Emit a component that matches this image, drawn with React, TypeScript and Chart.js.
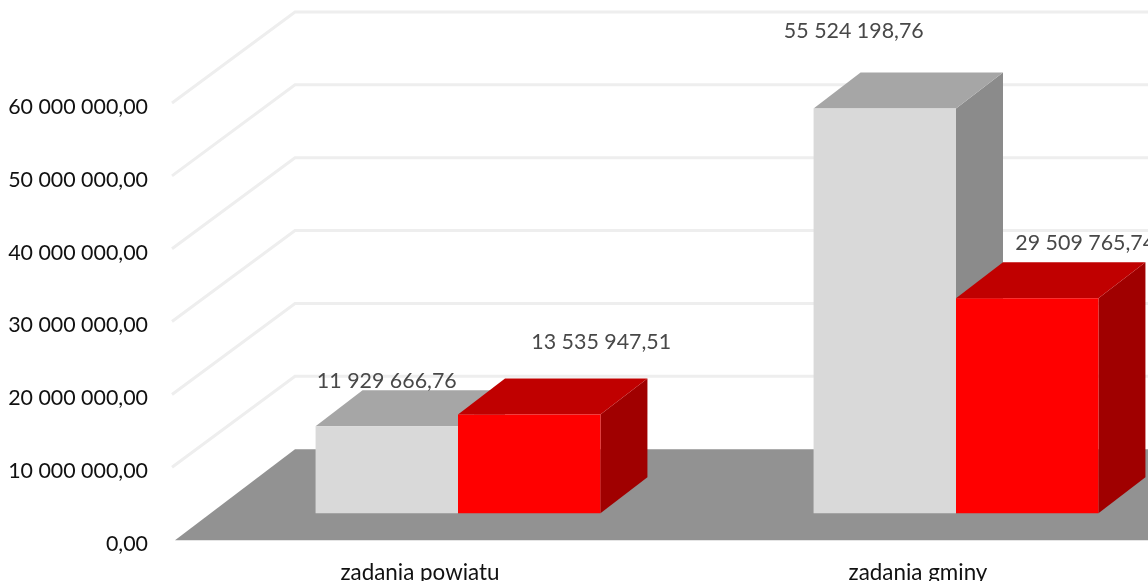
import React, { useEffect, useRef } from "react";
import { Chart, registerables } from "chart.js";

Chart.register(...registerables);

const categories = ["zadania powiatu", "zadania gminy"];
const seriesGrey = [11929666.76, 55524198.76];
const seriesRed = [13535947.51, 29509765.74];
const yMax = 60000000;
const yStep = 10000000;

// value-equivalent of the gap between the front edge of the floor and the foot of the bars
const floorInset = 3707000;

// label displacement [dx, dy] from the top-centre of each bar's front face
const greyLabelShift = [[0, -45], [-31, -77]];
const redLabelShift = [[72, -72], [58, -55]];

const FONT = "Lato, 'Open Sans', sans-serif";
const DEPTH_X = 47;
const DEPTH_Y = 36;
const WALL_Y = 91;
const AREA_LEFT = 209;
const CANVAS_W = 1300;
const CANVAS_H = 606;

const fmt = (v: number) => {
  const [i, d] = v.toFixed(2).split(".");
  return i.replace(/\B(?=(\d{3})+(?!\d))/g, " ") + "," + d;
};

const poly = (c: CanvasRenderingContext2D, pts: number[][], fill: string) => {
  c.beginPath();
  pts.forEach((p, i) => (i ? c.lineTo(p[0], p[1]) : c.moveTo(p[0], p[1])));
  c.closePath();
  c.fillStyle = fill;
  c.fill();
};

const faces = [
  { top: "#a6a6a6", side: "#8b8b8b" },
  { top: "#c00000", side: "#a00000" },
];

const box3d = {
  id: "box3d",
  beforeDatasetsDraw(chart: any) {
    const c: CanvasRenderingContext2D = chart.ctx;
    const { left, bottom } = chart.chartArea;
    const yScale = chart.scales.y;
    const floorBack = bottom - WALL_Y;
    const frontLeft = left - 34;
    const backLeft = frontLeft + 120;

    // walls: one bent line per tick
    c.save();
    c.strokeStyle = "#eeeeee";
    c.lineWidth = 3;
    yScale.ticks.forEach((t: any) => {
      if (t.value === 0) return;
      const y = yScale.getPixelForValue(t.value);
      c.beginPath();
      c.moveTo(frontLeft - 3, y);
      c.lineTo(backLeft, y - WALL_Y);
      c.lineTo(chart.width, y - WALL_Y);
      c.stroke();
    });
    // floor
    poly(c, [[frontLeft, bottom], [backLeft, floorBack], [chart.width, floorBack], [chart.width, bottom]], "#929292");

    // depth faces, grey first so that red lies over it
    [0, 1].forEach((di) => {
      chart.getDatasetMeta(di).data.forEach((b: any) => {
        const l = b.x - b.width / 2;
        const r = b.x + b.width / 2;
        poly(c, [[r, b.y], [r + DEPTH_X, b.y - DEPTH_Y], [r + DEPTH_X, b.base - DEPTH_Y], [r, b.base]], faces[di].side);
        poly(c, [[l, b.y], [l + DEPTH_X, b.y - DEPTH_Y], [r + DEPTH_X, b.y - DEPTH_Y], [r, b.y]], faces[di].top);
      });
    });
    c.restore();
  },
  afterDatasetsDraw(chart: any) {
    const c: CanvasRenderingContext2D = chart.ctx;
    c.save();
    c.font = `21.4px ${FONT}`;
    c.fillStyle = "#484848";
    c.textAlign = "center";
    c.textBaseline = "middle";
    [greyLabelShift, redLabelShift].forEach((shift, di) => {
      const ds = chart.data.datasets[di];
      chart.getDatasetMeta(di).data.forEach((b: any, i: number) => {
        c.fillText(fmt(ds.data[i]), b.x + shift[i][0], b.y + shift[i][1]);
      });
    });
    c.restore();
  },
};

export default function App() {
  const ref = useRef<HTMLCanvasElement>(null);
  useEffect(() => {
    const chart = new Chart(ref.current!, {
      type: "bar",
      plugins: [box3d],
      data: {
        labels: categories,
        datasets: [
          { data: seriesGrey, backgroundColor: "#d9d9d9", yAxisID: "bars", categoryPercentage: 0.572, barPercentage: 1 },
          { data: seriesRed, backgroundColor: "#ff0000", yAxisID: "bars", categoryPercentage: 0.572, barPercentage: 1 },
        ],
      },
      options: {
        responsive: false,
        animation: false,
        layout: { padding: { top: 103, right: CANVAS_W - 1205, left: 0, bottom: 0 } },
        plugins: { legend: { display: false }, tooltip: { enabled: false } },
        scales: {
          x: {
            grid: { display: false },
            border: { display: false },
            ticks: { color: "#111111", font: { family: FONT, size: 22.4 }, padding: 11, maxRotation: 0, labelOffset: -38 },
            afterFit: (s: any) => { s.height = 60; },
          },
          y: {
            min: 0,
            max: yMax,
            grid: { display: false },
            border: { display: false },
            ticks: {
              stepSize: yStep,
              color: "#111111",
              font: { family: FONT, size: 21.4 },
              padding: 53,
              labelOffset: 4,
              callback: (v: any) => fmt(Number(v)),
            },
            afterFit: (s: any) => { s.width = AREA_LEFT; },
          },
          bars: { display: false, min: -floorInset, max: yMax - floorInset },
        },
      },
    } as any);
    return () => chart.destroy();
  }, []);
  return (
    <div style={{ position: "absolute", left: 0, top: 0, width: 1148, height: 581, overflow: "hidden", background: "#fff" }}>
      <canvas ref={ref} width={CANVAS_W} height={CANVAS_H} style={{ display: "block", filter: "blur(0.7px)" }} />
    </div>
  );
}
